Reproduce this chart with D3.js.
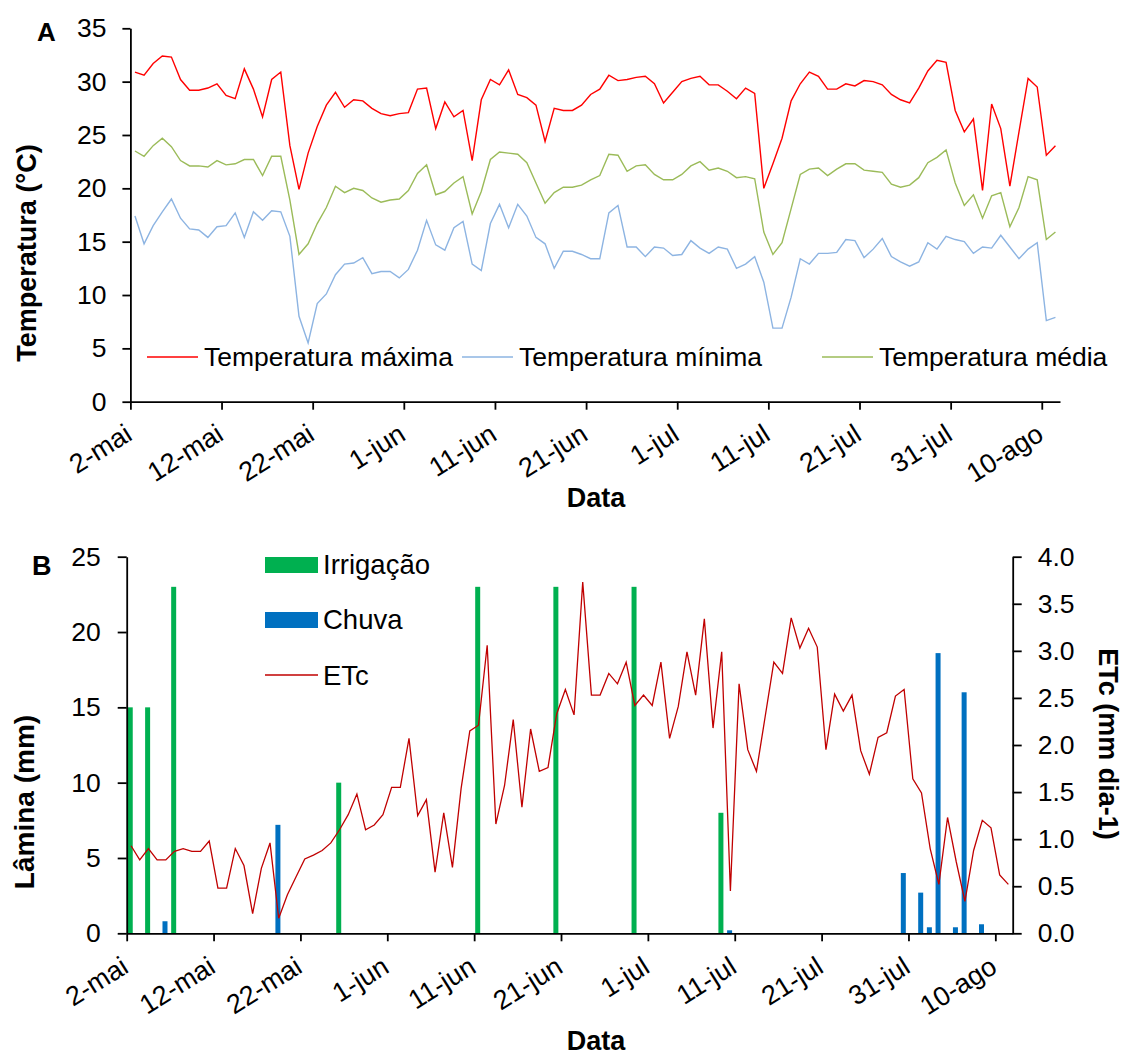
<!DOCTYPE html>
<html><head><meta charset="utf-8">
<script src="https://cdn.jsdelivr.net/npm/d3@7"></script>
<style>
html,body{margin:0;padding:0;background:#fff;}
text{font-family:"Liberation Sans",Arial,sans-serif;fill:#000;}
</style></head>
<body>
<svg id="chart" width="1123" height="1055"></svg>
<script>
// ---- data ----
const months = ["jan","fev","mar","abr","mai","jun","jul","ago"];
const categories = d3.range(102).map(i => { const d = new Date(2019, 4, 2 + i); return d.getDate() + "-" + months[d.getMonth()]; });
const tickLabels = ["2-mai","12-mai","22-mai","1-jun","11-jun","21-jun","1-jul","11-jul","21-jul","31-jul","10-ago"];
const tickIndex = [0,10,20,30,40,50,60,70,80,90,100];

const tMax = [30.9,30.6,31.7,32.4,32.3,30.2,29.2,29.2,29.4,29.8,28.7,28.4,31.2,29.3,26.7,30.2,30.9,24.0,19.9,23.3,25.8,27.8,29.0,27.6,28.3,
  28.2,27.5,27.0,26.8,27.0,27.1,29.3,29.4,25.6,28.1,26.7,27.3,22.6,28.3,30.2,29.7,31.1,28.8,28.5,27.8,24.4,27.5,27.3,27.3,27.8,
  28.8,29.3,30.6,30.1,30.2,30.4,30.5,29.8,28.0,29.0,30.0,30.3,30.5,29.7,29.7,29.1,28.4,29.4,28.9,20.0,22.3,24.7,28.2,29.8,30.9,30.5,
  29.3,29.3,29.8,29.6,30.1,30.0,29.7,28.8,28.3,28.0,29.4,31.0,32.0,31.8,27.3,25.3,26.5,19.8,27.9,25.6,20.2,25.3,30.3,29.5,23.1,24.0];
const tMin = [17.4,14.8,16.5,17.8,19.0,17.2,16.2,16.1,15.4,16.4,16.5,17.7,15.4,17.8,17.0,17.9,17.8,15.5,8.0,5.5,9.2,10.1,11.9,12.9,13.0,
  13.5,12.0,12.2,12.2,11.6,12.4,14.2,17.0,14.7,14.2,16.3,16.9,12.9,12.3,16.7,18.5,16.3,18.5,17.4,15.4,14.8,12.5,14.1,14.1,13.8,
  13.4,13.4,17.7,18.4,14.5,14.5,13.6,14.5,14.4,13.7,13.8,15.1,14.4,13.9,14.5,14.3,12.5,12.9,13.6,11.2,6.9,6.9,9.8,13.4,12.9,13.9,
  13.9,14.0,15.2,15.1,13.5,14.3,15.3,13.6,13.1,12.7,13.1,14.9,14.3,15.5,15.2,15.0,13.9,14.5,14.4,15.6,14.5,13.4,14.3,14.9,7.6,7.9];
const tMed = [23.5,23.0,24.0,24.7,23.9,22.6,22.1,22.1,22.0,22.6,22.2,22.3,22.7,22.7,21.2,23.0,23.0,18.9,13.8,14.8,16.7,18.2,20.2,19.6,20.0,
  19.8,19.1,18.7,18.9,19.0,19.8,21.4,22.2,19.4,19.7,20.5,21.1,17.6,19.7,22.7,23.4,23.3,23.2,22.4,20.5,18.6,19.6,20.1,20.1,20.3,
  20.8,21.2,23.2,23.1,21.6,22.1,22.2,21.3,20.8,20.8,21.3,22.1,22.5,21.7,21.9,21.6,21.0,21.1,20.9,15.9,13.8,14.9,18.1,21.3,21.8,21.9,
  21.2,21.8,22.3,22.3,21.7,21.6,21.5,20.4,20.1,20.3,21.0,22.4,22.9,23.6,20.5,18.4,19.4,17.2,19.3,19.6,16.4,18.2,21.1,20.8,15.2,15.9];
const etc = [0.93,0.78,0.90,0.78,0.78,0.87,0.90,0.87,0.87,0.98,0.48,0.48,0.90,0.72,0.21,0.69,0.96,0.16,0.41,0.60,0.79,0.83,0.88,0.96,1.10,1.26,
  1.48,1.10,1.15,1.26,1.55,1.55,2.07,1.25,1.42,0.65,1.28,0.70,1.54,2.15,2.21,3.06,1.16,1.57,2.27,1.34,2.17,1.72,1.76,2.33,2.59,2.32,
  3.73,2.53,2.53,2.76,2.65,2.88,2.42,2.53,2.42,2.88,2.07,2.41,2.99,2.53,3.34,2.18,2.99,0.45,2.65,1.95,1.72,2.30,2.88,2.76,3.35,3.03,
  3.24,3.04,1.95,2.54,2.36,2.53,1.94,1.69,2.08,2.13,2.52,2.59,1.64,1.49,0.90,0.52,1.23,0.76,0.34,0.88,1.20,1.12,0.62,0.52];
const irrigDays = [0,2,5,24,40,49,58,68];
const irrigVals = [15,15,23,10,23,23,23,8];
const rainDays = [4,17,69,89,91,92,93,95,96,98];
const rainVals = [0.8,7.2,0.2,4.0,2.7,0.4,18.6,0.4,16.0,0.6];

// ---- drawing ----
const svg = d3.select("#chart");
const FS = 26.5;
function styleAxis(g){
  g.selectAll("path.domain").attr("stroke","#000").attr("stroke-width",1.8);
  g.selectAll(".tick line").attr("stroke","#000").attr("stroke-width",1.8);
  g.selectAll("text").attr("font-size",FS).attr("font-family","Liberation Sans, Arial, sans-serif").attr("fill","#000");
}

// Panel A
const A = {x0:130.4, x1:1060, yTop:28.3, yBot:401.7};
const xA = d3.scaleBand().domain(categories).range([A.x0, A.x1]).padding(0);
const xAt = d3.scaleLinear().domain([0,102]).range([A.x0, A.x1]);
const yA = d3.scaleLinear().domain([0,35]).range([A.yBot, A.yTop]);

const gAx = svg.append("g").attr("transform",`translate(0,${A.yBot})`)
  .call(d3.axisBottom(xAt).tickValues(tickIndex).tickFormat((d,i)=>tickLabels[i]).tickSize(8).tickSizeOuter(0));
styleAxis(gAx);
gAx.selectAll(".tick text").attr("x",0).attr("y",0).attr("dy",0).attr("text-anchor","end").attr("font-size",27)
  .attr("transform","translate(3,37) rotate(-32)");
const gAy = svg.append("g").attr("transform",`translate(${A.x0},0)`)
  .call(d3.axisLeft(yA).tickValues(d3.range(0,36,5)).tickSize(8).tickSizeOuter(0).tickPadding(16));
styleAxis(gAy);

const lineA = arr => d3.line().x((d,i)=>xA(categories[i]) + xA.bandwidth()/2).y(d=>yA(d))(arr);
const seriesA = [
  {name:"Temperatura máxima", vals:tMax, color:"#FF0000"},
  {name:"Temperatura mínima", vals:tMin, color:"#8DB4E2"},
  {name:"Temperatura média", vals:tMed, color:"#9BBB59"}
];
seriesA.forEach(s=>{
  svg.append("path").attr("d",lineA(s.vals)).attr("fill","none").attr("stroke",s.color).attr("stroke-width",1.4);
});
// legend A
const legA = [{x:147},{x:462},{x:822}];
seriesA.forEach((s,i)=>{
  svg.append("line").attr("x1",legA[i].x).attr("x2",legA[i].x+51).attr("y1",357).attr("y2",357)
    .attr("stroke",s.color).attr("stroke-width",1.4);
  svg.append("text").attr("x",legA[i].x+57).attr("y",366).attr("font-size",FS).text(s.name);
});
svg.append("text").attr("x",37).attr("y",41).attr("font-size",26).attr("font-weight","bold").text("A");
svg.append("text").attr("transform","translate(36,253) rotate(-90)").attr("text-anchor","middle")
  .attr("font-size",27).attr("font-weight","bold").text("Temperatura (°C)");
svg.append("text").attr("x",596).attr("y",507).attr("text-anchor","middle")
  .attr("font-size",27).attr("font-weight","bold").text("Data");

// Panel B
const B = {x0:126.7, x1:1012.7, yTop:556.7, yBot:933.3};
const xB = d3.scaleBand().domain(categories).range([B.x0, B.x1]).padding(0);
const xBt = d3.scaleLinear().domain([0,102]).range([B.x0, B.x1]);
const yB = d3.scaleLinear().domain([0,25]).range([B.yBot, B.yTop]);
const yR = d3.scaleLinear().domain([0,4]).range([B.yBot, B.yTop]);

const barW = 5;
svg.append("g").selectAll("rect").data(irrigDays).join("rect")
  .attr("x",(d)=>xB(categories[d]) + xB.bandwidth()/2 - barW/2 - 0.8)
  .attr("y",(d,i)=>yB(irrigVals[i])).attr("width",barW)
  .attr("height",(d,i)=>yB(0)-yB(irrigVals[i])).attr("fill","#00B050");
svg.append("g").selectAll("rect").data(rainDays).join("rect")
  .attr("x",(d)=>xB(categories[d]) + xB.bandwidth()/2 - barW/2 - 0.8)
  .attr("y",(d,i)=>yB(rainVals[i])).attr("width",barW)
  .attr("height",(d,i)=>yB(0)-yB(rainVals[i])).attr("fill","#0070C0");
svg.append("path")
  .attr("d", d3.line().x((d,i)=>xB(categories[i]) + xB.bandwidth()/2).y(d=>yR(d))(etc))
  .attr("fill","none").attr("stroke","#C00000").attr("stroke-width",1.3);

const gBx = svg.append("g").attr("transform",`translate(0,${B.yBot})`)
  .call(d3.axisBottom(xBt).tickValues(tickIndex).tickFormat((d,i)=>tickLabels[i]).tickSize(8).tickSizeOuter(0));
styleAxis(gBx);
gBx.selectAll(".tick text").attr("x",0).attr("y",0).attr("dy",0).attr("text-anchor","end").attr("font-size",27)
  .attr("transform","translate(3,38) rotate(-32)");
const gBy = svg.append("g").attr("transform",`translate(${B.x0},0)`)
  .call(d3.axisLeft(yB).tickValues(d3.range(0,26,5)).tickSize(9).tickSizeOuter(0).tickPadding(17));
styleAxis(gBy);
const gBr = svg.append("g").attr("transform",`translate(${B.x1},0)`)
  .call(d3.axisRight(yR).tickValues(d3.range(0,4.01,0.5)).tickFormat(d3.format(".1f")).tickSize(9).tickSizeOuter(0).tickPadding(16));
styleAxis(gBr);

// legend B
svg.append("rect").attr("x",265).attr("y",557).attr("width",53).attr("height",16).attr("fill","#00B050");
svg.append("text").attr("x",323).attr("y",574).attr("font-size",FS+1).text("Irrigação");
svg.append("rect").attr("x",265).attr("y",612).attr("width",53).attr("height",16).attr("fill","#0070C0");
svg.append("text").attr("x",323).attr("y",629).attr("font-size",FS+1).text("Chuva");
svg.append("line").attr("x1",265).attr("x2",318).attr("y1",675).attr("y2",675).attr("stroke","#C00000").attr("stroke-width",1.3);
svg.append("text").attr("x",323).attr("y",685).attr("font-size",FS+1).text("ETc");

svg.append("text").attr("x",32).attr("y",575).attr("font-size",27).attr("font-weight","bold").text("B");
svg.append("text").attr("transform","translate(34,802) rotate(-90)").attr("text-anchor","middle")
  .attr("font-size",28).attr("font-weight","bold").text("Lâmina (mm)");
svg.append("text").attr("transform","translate(1099,744) rotate(90)").attr("text-anchor","middle")
  .attr("font-size",27).attr("font-weight","bold").text("ETc (mm dia-1)");
svg.append("text").attr("x",596).attr("y",1050).attr("text-anchor","middle")
  .attr("font-size",27).attr("font-weight","bold").text("Data");
</script>
</body></html>
